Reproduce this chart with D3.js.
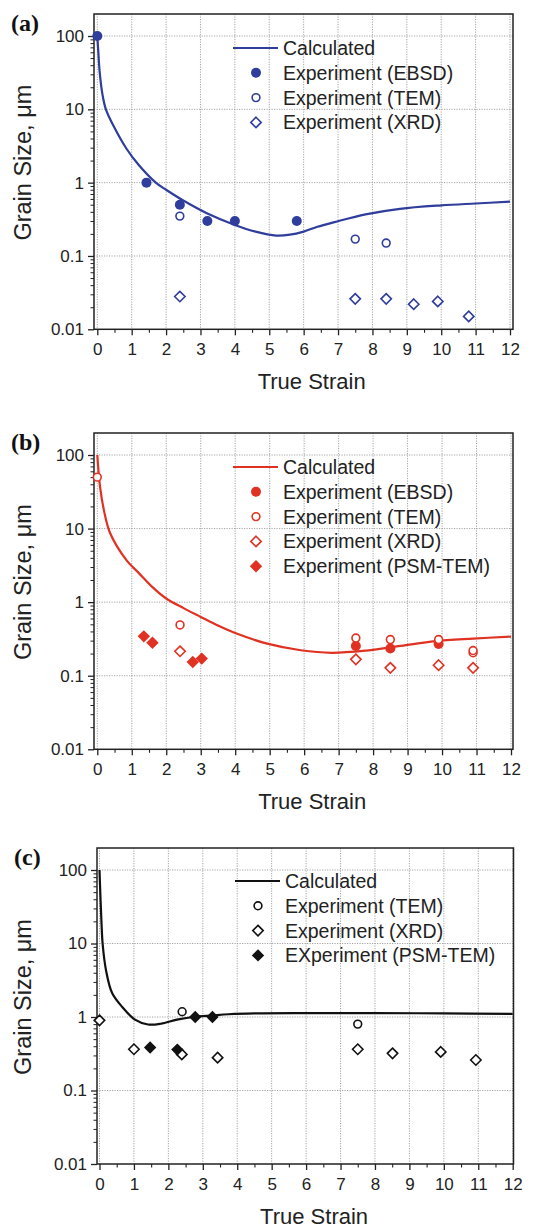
<!DOCTYPE html>
<html>
<head>
<meta charset="utf-8">
<script src="https://cdn.jsdelivr.net/npm/d3@7"></script>
<style>
  body { margin: 0; background: #fff; }
</style>
</head>
<body>
<div id="chart"></div>
<script>
// shared axis values
var strainTicks = d3.range(0, 13);
var sizeDomain = [0.01, 100];

// panel (a), blue
var calcA = [[0,100],[0.03,60],[0.07,32],[0.15,16],[0.25,10],[0.5,5.6],[0.85,2.9],[1.2,1.75],
  [1.7,1.0],[2.0,0.8],[2.5,0.57],[3.2,0.38],[4.0,0.265],[4.6,0.215],[5.2,0.19],[5.6,0.195],
  [6.0,0.215],[6.4,0.25],[6.9,0.29],[7.8,0.37],[8.8,0.44],[10,0.49],[11,0.52],[12,0.55]];
var ebsdA = [[0,100],[1.43,1.0],[2.4,0.5],[3.2,0.3],[4.0,0.3],[5.8,0.3]];
var temA = [[2.4,0.35],[7.5,0.17],[8.4,0.15]];
var xrdA = [[2.4,0.028],[7.5,0.026],[8.4,0.026],[9.2,0.022],[9.9,0.024],[10.8,0.015]];

// panel (b), red
var calcB = [[0,100],[0.08,37],[0.2,17],[0.37,8.7],[0.85,3.7],[1.2,2.5],[1.6,1.6],[2.0,1.12],
  [2.5,0.83],[3.0,0.63],[3.5,0.48],[4.0,0.38],[4.9,0.275],[5.9,0.222],[6.8,0.205],[7.8,0.22],
  [8.8,0.254],[9.8,0.296],[10.9,0.32],[12,0.34]];
var ebsdB = [[7.5,0.254],[8.5,0.235],[9.9,0.27]];
var temB = [[0,50],[2.4,0.49],[7.5,0.325],[8.5,0.31],[9.9,0.31],[10.9,0.205],[10.9,0.22]];
var xrdB = [[2.4,0.215],[7.5,0.167],[8.5,0.128],[9.9,0.139],[10.9,0.128]];
var psmB = [[1.35,0.343],[1.6,0.281],[2.77,0.154],[3.03,0.171]];

// panel (c), black
var calcC = [[0,100],[0.03,40],[0.06,18],[0.09,10],[0.19,4.3],[0.37,2.1],[0.66,1.37],[1.03,0.92],
  [1.41,0.79],[1.78,0.81],[2.25,0.92],[2.72,1.0],[3.28,1.05],[3.75,1.09],[4.5,1.12],
  [6,1.13],[8,1.13],[10,1.12],[12,1.1]];
var temC = [[2.4,1.18],[7.5,0.8]];
var xrdC = [[0,0.9],[1.0,0.364],[2.39,0.31],[3.43,0.28],[7.5,0.364],[8.51,0.32],[9.91,0.335],[10.93,0.26]];
var psmC = [[1.47,0.384],[2.26,0.36],[2.78,1.0],[3.28,1.0]];

var legendA = ["Calculated", "Experiment (EBSD)", "Experiment (TEM)", "Experiment (XRD)"];
var legendB = ["Calculated", "Experiment (EBSD)", "Experiment (TEM)", "Experiment (XRD)", "Experiment (PSM-TEM)"];
var legendC = ["Calculated", "Experiment (TEM)", "Experiment (XRD)", "EXperiment (PSM-TEM)"];

var sans = "Liberation Sans, Arial, Helvetica, sans-serif";

var svg = d3.select("#chart").append("svg")
  .attr("width", 536)
  .attr("height", 1228);

// panel layout (pixels)
var panels = [
  {label: "(a)", color: "#2f3d9c", L: 94, R: 513, T: 14, x0: 97.3, x12: 510, y100: 36, y001: 329.3,
   series: [["line", calcA], ["dot", ebsdA], ["circle", temA], ["diamond", xrdA]],
   legend: legendA, legTop: 48, legX: 256},
  {label: "(b)", color: "#e03222", L: 94, R: 513, T: 433, x0: 97.3, x12: 511, y100: 455, y001: 749.3,
   series: [["line", calcB], ["dot", ebsdB], ["circle", temB], ["diamond", xrdB], ["fdiamond", psmB]],
   legend: legendB, legTop: 467, legX: 256},
  {label: "(c)", color: "#111", L: 97, R: 513.5, T: 848, x0: 99.5, x12: 512.7, y100: 870, y001: 1164,
   series: [["line", calcC], ["circle", temC], ["diamond", xrdC], ["fdiamond", psmC]],
   legend: legendC, legTop: 881, legX: 258}
];

function diamondPath(r) {
  return "M0," + (-r) + "L" + r + ",0L0," + r + "L" + (-r) + ",0Z";
}

function drawMarker(g, type, cx, cy, color) {
  if (type == "dot") {
    g.append("circle").attr("cx", cx).attr("cy", cy).attr("r", 5).attr("fill", color);
  } else if (type == "circle") {
    g.append("circle").attr("cx", cx).attr("cy", cy).attr("r", 3.9)
      .attr("fill", "#fff").attr("stroke", color).attr("stroke-width", 1.6);
  } else if (type == "diamond") {
    g.append("path").attr("d", diamondPath(5.2))
      .attr("transform", "translate(" + cx + "," + cy + ")")
      .attr("fill", "#fff").attr("stroke", color).attr("stroke-width", 1.6);
  } else if (type == "fdiamond") {
    g.append("path").attr("d", diamondPath(6.2))
      .attr("transform", "translate(" + cx + "," + cy + ")")
      .attr("fill", color);
  }
}

panels.forEach(function(p) {
  var x = d3.scaleLinear().domain([0, 12]).range([p.x0, p.x12]);
  var y = d3.scaleLog().domain(sizeDomain).range([p.y001, p.y100]);
  var g = svg.append("g");

  // dotted grid
  g.selectAll(".gx").data(strainTicks).enter().append("line")
    .attr("x1", d => x(d)).attr("x2", d => x(d))
    .attr("y1", p.T).attr("y2", p.y001)
    .attr("stroke", "#9a9a9a").attr("stroke-width", 0.9).attr("stroke-dasharray", "1.2,1.3");
  g.selectAll(".gy").data([0.1, 1, 10, 100]).enter().append("line")
    .attr("x1", p.L).attr("x2", p.R)
    .attr("y1", d => y(d)).attr("y2", d => y(d))
    .attr("stroke", "#9a9a9a").attr("stroke-width", 0.9).attr("stroke-dasharray", "1.2,1.3");

  // x axis with half-unit minor ticks
  var xAxis = d3.axisBottom(x).tickValues(strainTicks).tickSize(6).tickPadding(8).tickFormat(d3.format("d"));
  var ax = g.append("g").attr("transform", "translate(0," + p.y001 + ")").call(xAxis);
  ax.select(".domain").remove();
  ax.selectAll("text").attr("font-size", 17).attr("font-family", sans).attr("fill", "#222");
  ax.selectAll("line").attr("stroke", "#222").attr("stroke-width", 1.3);
  var xMinor = d3.axisBottom(x).tickValues(d3.range(0.5, 12, 1)).tickSize(3.5).tickFormat("");
  var axm = g.append("g").attr("transform", "translate(0," + p.y001 + ")").call(xMinor);
  axm.select(".domain").remove();
  axm.selectAll("line").attr("stroke", "#222").attr("stroke-width", 1.1);

  // y axis, log
  var yAxis = d3.axisLeft(y).tickValues([0.01, 0.1, 1, 10, 100]).tickSize(6).tickPadding(4)
    .tickFormat(d => d >= 1 ? d3.format("d")(d) : String(d));
  var ay = g.append("g").attr("transform", "translate(" + p.L + ",0)").call(yAxis);
  ay.select(".domain").remove();
  ay.selectAll("text").attr("font-size", 17).attr("font-family", sans).attr("fill", "#222");
  ay.selectAll("line").attr("stroke", "#222").attr("stroke-width", 1.3);
  var minorY = y.ticks().filter(d => Math.abs(Math.log10(d) - Math.round(Math.log10(d))) > 1e-6);
  var yMinor = d3.axisLeft(y).tickValues(minorY).tickSize(3.5).tickFormat("");
  var aym = g.append("g").attr("transform", "translate(" + p.L + ",0)").call(yMinor);
  aym.select(".domain").remove();
  aym.selectAll("line").attr("stroke", "#222").attr("stroke-width", 1);

  // frame
  g.append("rect").attr("x", p.L).attr("y", p.T).attr("width", p.R - p.L).attr("height", p.y001 - p.T)
    .attr("fill", "none").attr("stroke", "#222").attr("stroke-width", 1.5);

  // series
  p.series.forEach(function(s) {
    if (s[0] == "line") {
      g.append("path").datum(s[1])
        .attr("d", d3.line().x(d => x(d[0])).y(d => y(d[1])).curve(d3.curveCatmullRom.alpha(0.5)))
        .attr("fill", "none").attr("stroke", p.color).attr("stroke-width", 2.2);
    } else {
      s[1].forEach(function(d) { drawMarker(g, s[0], x(d[0]), y(d[1]), p.color); });
    }
  });

  // legend
  p.legend.forEach(function(name, i) {
    var ly = p.legTop + i * 24.8;
    var s = p.series[i];
    if (s[0] == "line") {
      g.append("line").attr("x1", p.legX - 23).attr("x2", p.legX + 22).attr("y1", ly).attr("y2", ly)
        .attr("stroke", p.color).attr("stroke-width", 2.2);
    } else {
      drawMarker(g, s[0], p.legX, ly, p.color);
    }
    g.append("text").attr("x", p.legX + 27).attr("y", ly + 7)
      .style("font-family", sans).attr("font-size", 19.5).attr("fill", "#222").text(name);
  });

  // titles
  g.append("text").attr("x", (p.x0 + p.x12) / 2 + 8).attr("y", p.y001 + 60)
    .attr("text-anchor", "middle").style("font-family", sans).attr("font-size", 22)
    .attr("fill", "#222").text("True Strain");
  g.append("text")
    .attr("transform", "translate(31," + ((p.T + p.y001) / 2 - 9) + ") rotate(-90)")
    .attr("text-anchor", "middle").style("font-family", sans).attr("font-size", 23.5)
    .attr("fill", "#222").text("Grain Size, μm");
  g.append("text").attr("x", p.L - 83).attr("y", p.T + 17)
    .style("font-family", "Liberation Serif, Times New Roman, serif").style("font-weight", "bold")
    .attr("font-size", 24).attr("fill", "#111").text(p.label);
});
</script>
</body>
</html>
